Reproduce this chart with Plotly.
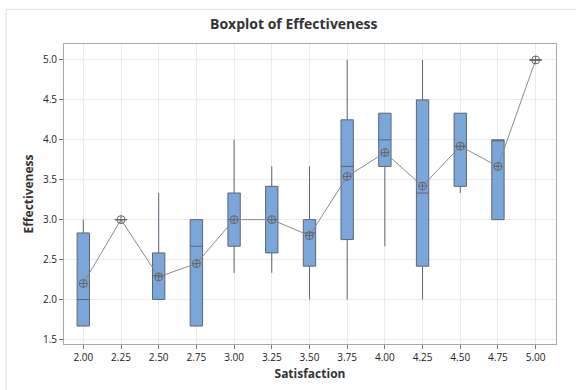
import plotly.graph_objects as go

satisfaction = [2.00, 2.25, 2.50, 2.75, 3.00, 3.25, 3.50, 3.75, 4.00, 4.25, 4.50, 4.75, 5.00]
q1 =         [1.667, 3.0, 2.0,   1.667, 2.667, 2.583, 2.417, 2.75,  3.667, 2.417, 3.417, 3.0, 5.0]
median =     [2.0,   3.0, 2.3,   2.667, 3.0,   3.0,   2.833, 3.667, 4.0,   3.333, 3.917, 4.0, 5.0]
q3 =         [2.833, 3.0, 2.583, 3.0,   3.333, 3.417, 3.0,   4.25,  4.333, 4.5,   4.333, 4.0, 5.0]
lowerfence = [1.667, 3.0, 2.0,   1.667, 2.333, 2.333, 2.0,   2.0,   2.667, 2.0,   3.333, 3.0, 5.0]
upperfence = [3.0,   3.0, 3.333, 3.0,   4.0,   3.667, 3.667, 5.0,   4.333, 5.0,   4.333, 4.0, 5.0]
means =      [2.2,   3.0, 2.283, 2.45,  3.0,   3.0,   2.8,   3.54,  3.84,  3.42,  3.92,  3.667, 5.0]

y_ticks = [1.5, 2.0, 2.5, 3.0, 3.5, 4.0, 4.5, 5.0]

fig = go.Figure()
fig.add_trace(go.Box(
    x=satisfaction, q1=q1, median=median, q3=q3,
    lowerfence=lowerfence, upperfence=upperfence,
    width=0.082, whiskerwidth=0,
    fillcolor="#7BA6DA", line=dict(color="#5d6673", width=1),
    boxpoints=False, showlegend=False, hoverinfo="skip",
))
fig.add_trace(go.Scatter(
    x=satisfaction, y=means, mode="lines+markers",
    line=dict(color="#8a8a8a", width=1),
    marker=dict(symbol="circle-cross-open", size=8, color="#666666", line=dict(width=1)),
    showlegend=False, hoverinfo="skip",
))

L, R, T, B = 64, 20, 44, 43
pw, ph = 576 - L - R, 390 - T - B
fig.add_shape(type="rect", xref="paper", yref="paper",
              x0=(6 - L) / pw, x1=1.3, y0=-0.5, y1=1 + (T - 9) / ph,
              line=dict(color="#dddddd", width=1), layer="below")

axis_common = dict(showgrid=True, gridcolor="#ebebeb", gridwidth=1,
                   showline=True, linecolor="#a8a8a8", linewidth=1, mirror=True,
                   ticks="outside", ticklen=4, tickcolor="#777777",
                   zeroline=False, tickfont=dict(size=10, color="#222222"))

fig.update_layout(
    width=576, height=390,
    margin=dict(l=L, r=R, t=T, b=B),
    paper_bgcolor="white", plot_bgcolor="white",
    font=dict(family="Open Sans", color="#333333"),
    title=dict(text="<b>Boxplot of Effectiveness</b>", x=0.51, xanchor="center",
               y=1 - 24 / 390, yanchor="middle", font=dict(size=14, color="#333333")),
    xaxis=dict(axis_common, range=[1.872, 5.135], tickvals=satisfaction,
               tickformat=".2f",
               title=dict(text="<b>Satisfaction</b>", font=dict(size=12), standoff=6)),
    yaxis=dict(axis_common, range=[1.442, 5.2], tickvals=y_ticks, tickformat=".1f",
               title=dict(text="<b>Effectiveness</b>", font=dict(size=12), standoff=6)),
)

fig.write_html("out.html", config={"displayModeBar": False},
               post_script="document.body.style.margin='0';")
